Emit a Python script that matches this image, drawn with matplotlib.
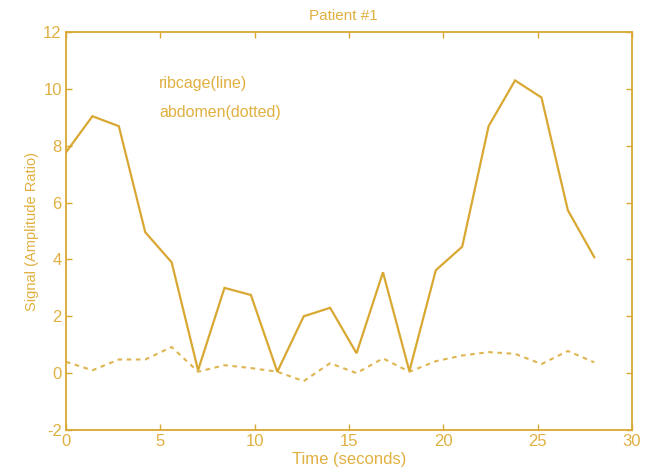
import matplotlib
matplotlib.use("Agg")
import matplotlib.pyplot as plt

time_s = [0.0, 1.4, 2.8, 4.2, 5.6, 7.0, 8.4, 9.8, 11.2, 12.6, 14.0,
          15.4, 16.8, 18.2, 19.6, 21.0, 22.4, 23.8, 25.2, 26.6, 28.0]
ribcage = [7.77, 9.04, 8.69, 4.96, 3.9, 0.1, 3.0, 2.75, 0.05, 2.0, 2.3,
           0.7, 3.55, 0.07, 3.62, 4.45, 8.69, 10.3, 9.7, 5.73, 4.08]
abdomen = [0.4, 0.1, 0.48, 0.48, 0.92, 0.05, 0.28, 0.18, 0.05, -0.28, 0.35,
           0.0, 0.52, 0.05, 0.42, 0.62, 0.74, 0.68, 0.32, 0.78, 0.38]

xticks = [0, 5, 10, 15, 20, 25, 30]
yticks = [-2, 0, 2, 4, 6, 8, 10, 12]

line_color = "#D9A832"
text_color = "#E0B040"

plt.rcParams['font.family'] = ['Liberation Sans', 'DejaVu Sans']
plt.rcParams['axes.unicode_minus'] = False

fig = plt.figure(figsize=(6.58, 4.72), dpi=100)
ax = fig.add_axes([0.1003, 0.089, 0.8602, 0.843])

ax.plot(time_s, ribcage, color=line_color, lw=1.6, solid_joinstyle='miter')
ax.plot(time_s, abdomen, color=line_color, lw=1.5, linestyle=(0, (2.2, 2.2)), alpha=0.85)

ax.set_xlim(0, 30)
ax.set_ylim(-2, 12)
ax.set_xticks(xticks)
ax.set_yticks(yticks)
ax.tick_params(direction='in', top=True, right=True, colors=line_color,
               labelcolor=text_color, labelsize=12, length=4, width=1, pad=3)
for sp in ax.spines.values():
    sp.set_color(line_color)
    sp.set_linewidth(1.3)

ax.set_title("Patient #1", color=text_color, fontsize=11, pad=9, x=0.49)
ax.set_xlabel("Time (seconds)", color=text_color, fontsize=12, labelpad=2)
ax.set_ylabel("Signal (Amplitude Ratio)", color=text_color, fontsize=10.5, labelpad=3)

ax.text(4.93, 10.2, "ribcage(line)", color=text_color, fontsize=11.5, va='center')
ax.text(4.93, 9.18, "abdomen(dotted)", color=text_color, fontsize=11.5, va='center')

fig.savefig("out.png", dpi=100)
